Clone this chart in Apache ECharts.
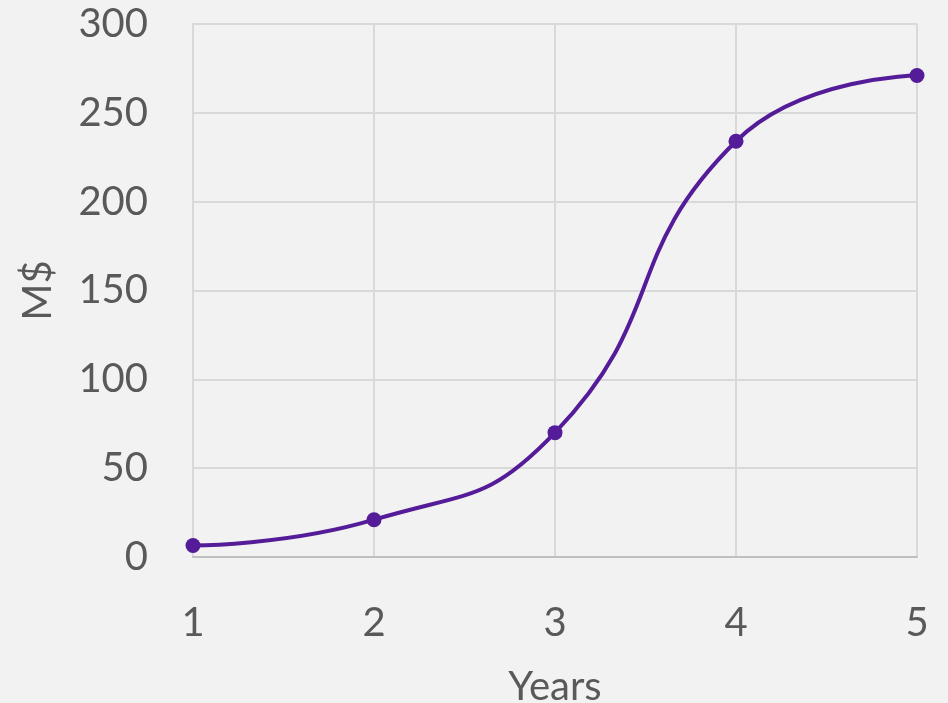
<!DOCTYPE html>
<html><head><meta charset="utf-8">
<script src="https://cdn.jsdelivr.net/npm/echarts@6/dist/echarts.min.js"></script>
<style>html,body{margin:0;padding:0;background:#f2f2f2}#c{width:948px;height:703px}</style>
</head><body><div id="c"></div>
<script>
const years = [1, 2, 3, 4, 5];
const values = [6.5, 21, 70, 234, 271];
const yTicks = [0, 300, 50];

const chart = echarts.init(document.getElementById('c'));
chart.setOption({
  backgroundColor: '#f2f2f2',
  animation: false,
  textStyle: { fontFamily: 'Lato' },
  grid: { left: 193, right: 31, top: 24, bottom: 146, containLabel: false, outerBoundsMode: 'none' },
  xAxis: {
    type: 'value', min: 1, max: 5, interval: 1,
    name: 'Years', nameLocation: 'middle', nameGap: 110,
    nameTextStyle: { color: '#595959', fontSize: 40, fontFamily: 'Lato' },
    axisLine: { show: true, lineStyle: { color: '#bfbfbf', width: 2 } },
    axisTick: { show: false },
    axisLabel: { color: '#595959', fontSize: 40, margin: 46, fontFamily: 'Lato' },
    splitLine: { show: true, lineStyle: { color: '#d9d9d9', width: 2 } }
  },
  yAxis: {
    type: 'value', min: yTicks[0], max: yTicks[1], interval: yTicks[2],
    name: 'M$', nameLocation: 'middle', nameGap: 135, nameRotate: 90,
    nameTextStyle: { color: '#595959', fontSize: 40, fontFamily: 'Lato' },
    axisLine: { show: true, lineStyle: { color: '#d9d9d9', width: 2 } },
    axisTick: { show: false },
    axisLabel: { color: '#595959', fontSize: 40, margin: 45, fontFamily: 'Lato' },
    splitLine: { show: true, lineStyle: { color: '#d9d9d9', width: 2 } }
  },
  series: [{
    type: 'line',
    data: years.map((x, i) => [x, values[i]]),
    smooth: 0.5,
    symbol: 'circle', symbolSize: 15,
    lineStyle: { color: '#541c98', width: 4 },
    itemStyle: { color: '#541c98' }
  }]
});
</script></body></html>
